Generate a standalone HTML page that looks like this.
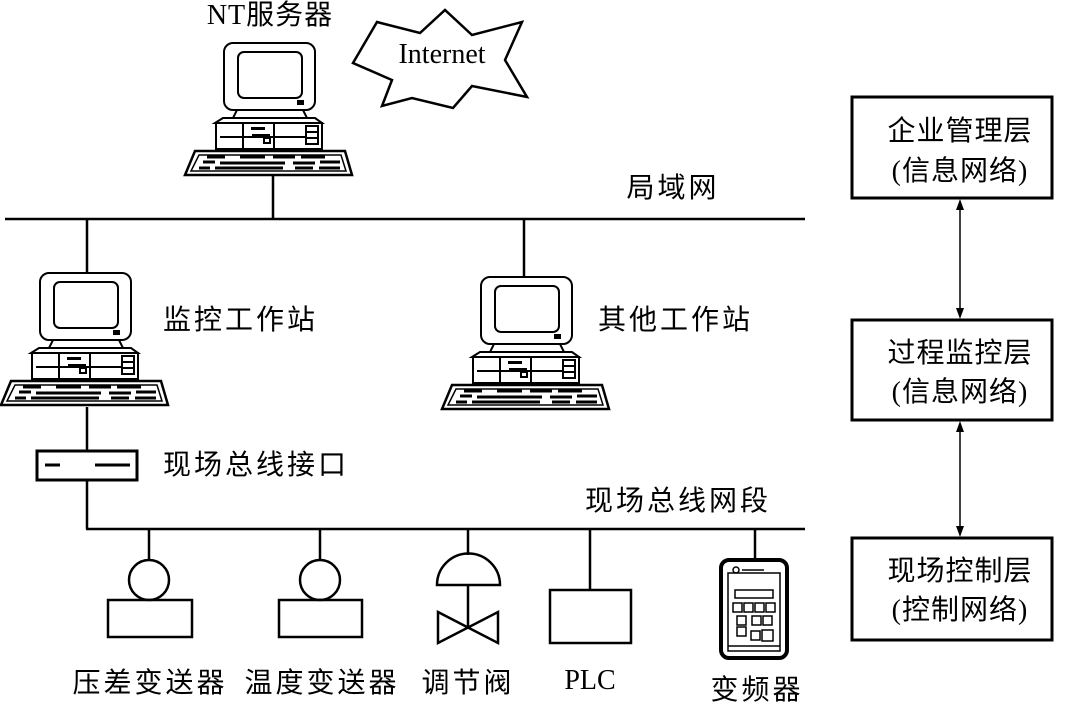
<!DOCTYPE html>
<html><head><meta charset="utf-8"><style>
body{margin:0;background:#fff}
svg{display:block}
text{font-family:"Liberation Serif","Noto Sans CJK SC",sans-serif;font-size:28px;fill:#000;letter-spacing:3px}
text.n{letter-spacing:0}
text.b{letter-spacing:1px}
</style></head><body>
<svg width="1069" height="704" viewBox="0 0 1069 704" xmlns="http://www.w3.org/2000/svg">
<defs>
<g id="pc" fill="#fff" stroke="#000" stroke-width="2">
  <rect x="39" y="0" width="91" height="67" rx="9"/>
  <rect x="53" y="9" width="64" height="46" rx="6"/>
  <rect x="113" y="58" width="5" height="3" fill="#000"/>
  <path d="M52 67 L118 67 L122 75 L48 75 Z"/>
  <path d="M30 80 L38 75 L130 75 L137 80 Z"/>
  <rect x="31" y="80" width="106" height="26"/>
  <line x1="35" y1="94" x2="133" y2="94"/>
  <line x1="58" y1="80" x2="58" y2="106"/>
  <line x1="89" y1="80" x2="89" y2="106"/>
  <rect x="66" y="84" width="14" height="3" fill="#000" stroke="none"/>
  <rect x="67" y="91" width="18" height="2" fill="#000" stroke="none"/>
  <rect x="79" y="95" width="6" height="5"/>
  <rect x="121" y="83" width="12" height="18"/>
  <line x1="121" y1="89" x2="133" y2="89"/><line x1="121" y1="95" x2="133" y2="95"/>
  <path d="M10 108 L160 108 L167 132 L0 132 Z" stroke-width="2.5"/>
  <path d="M14 112 L156 112 L161 128 L6 128 Z" stroke-width="1.5"/>
  <g stroke-width="3">
  <line x1="22" y1="114" x2="40" y2="114"/><line x1="55" y1="114" x2="80" y2="114"/><line x1="88" y1="114" x2="110" y2="114"/><line x1="116" y1="114" x2="140" y2="114"/>
  <line x1="18" y1="119" x2="30" y2="119"/><line x1="35" y1="120" x2="100" y2="120"/><line x1="108" y1="120" x2="130" y2="120"/><line x1="135" y1="119" x2="155" y2="119"/>
  <line x1="14" y1="125" x2="25" y2="125"/><line x1="30" y1="125" x2="98" y2="125"/><line x1="110" y1="125" x2="128" y2="125"/><line x1="134" y1="125" x2="155" y2="125"/>
  </g>
</g>
</defs>
<g stroke="#000" stroke-width="2.5" fill="none">
  <line x1="5" y1="219" x2="805" y2="219"/>
  <line x1="273" y1="175" x2="273" y2="219"/>
  <line x1="87" y1="219" x2="87" y2="273"/>
  <line x1="524" y1="219" x2="524" y2="278"/>
  <line x1="87" y1="407" x2="87" y2="451"/>
  <line x1="87" y1="480" x2="87" y2="529"/>
  <line x1="86" y1="529" x2="805" y2="529"/>
  <rect x="37" y="451" width="100" height="29" stroke-width="3"/>
  <line x1="45" y1="465" x2="60" y2="465" stroke-width="3"/>
  <line x1="95" y1="465" x2="130" y2="465" stroke-width="3"/>
  <line x1="149" y1="529" x2="149" y2="560"/>
  <circle cx="149" cy="580" r="20"/>
  <rect x="108" y="600" width="84" height="37"/>
  <line x1="320" y1="529" x2="320" y2="560"/>
  <circle cx="320" cy="580" r="20"/>
  <rect x="279" y="600" width="83" height="37"/>
  <line x1="468" y1="529" x2="468" y2="555"/>
  <path d="M437 585 A31 31 0 0 1 500 585 Z"/>
  <line x1="468" y1="585" x2="468" y2="628"/>
  <path d="M438 612 L498 643 L498 612 L438 643 Z" stroke-linejoin="miter"/>
  <line x1="590" y1="529" x2="590" y2="590"/>
  <rect x="550" y="590" width="81" height="53"/>
  <line x1="755" y1="529" x2="755" y2="560"/>
  <rect x="721" y="560" width="66" height="98" rx="8" stroke-width="4"/>
  <rect x="728" y="573" width="52" height="78" stroke-width="1.5"/>
  <circle cx="736" cy="570" r="3" stroke-width="1.5"/>
  <line x1="742" y1="570" x2="764" y2="570" stroke-width="1.5"/>
  <rect x="735" y="590" width="38" height="8" stroke-width="1.5"/>
  <g stroke-width="1.5">
  <rect x="733" y="603" width="9" height="9"/><rect x="744" y="603" width="9" height="9"/><rect x="755" y="603" width="9" height="9"/><rect x="766" y="603" width="9" height="9"/>
  <rect x="737" y="616" width="9" height="9"/><rect x="752" y="616" width="9" height="9"/><rect x="763" y="616" width="9" height="9"/>
  <rect x="737" y="627" width="9" height="9"/><rect x="751" y="631" width="9" height="9"/><rect x="762" y="630" width="11" height="11"/>
  <line x1="728" y1="646" x2="780" y2="646"/>
  </g>
  <rect x="852" y="97" width="200" height="101" stroke-width="3"/>
  <rect x="852" y="320" width="200" height="100" stroke-width="3"/>
  <rect x="852" y="538" width="200" height="102" stroke-width="3"/>
  <line x1="960" y1="203" x2="960" y2="315" stroke-width="1.5"/>
  <line x1="960" y1="425" x2="960" y2="533" stroke-width="1.5"/>
  <polygon points="353,63 377,22 420,33 445,10 472,35 522,22 505,60 527,97 472,86 453,108 412,98 382,106 392,80" stroke-width="2.5" fill="#fff"/>
</g>
<g fill="#000">
  <polygon points="960,199 956,210 964,210"/><polygon points="960,319 956,308 964,308"/>
  <polygon points="960,421 956,432 964,432"/><polygon points="960,537 956,526 964,526"/>
</g>
<use href="#pc" x="185" y="43"/>
<use href="#pc" x="1" y="273"/>
<use href="#pc" x="442" y="277"/>
<text class="n" x="442" y="63" text-anchor="middle" font-size="25">Internet</text>
<text class="b" x="270" y="24" text-anchor="middle">NT服务器</text>
<text x="673" y="197" text-anchor="middle">局域网</text>
<text x="163" y="329">监控工作站</text>
<text x="598" y="329">其他工作站</text>
<text x="163" y="474">现场总线接口</text>
<text x="678" y="510" text-anchor="middle">现场总线网段</text>
<text x="150" y="692" text-anchor="middle">压差变送器</text>
<text x="322" y="692" text-anchor="middle">温度变送器</text>
<text x="468" y="692" text-anchor="middle">调节阀</text>
<text class="n" x="590" y="689" text-anchor="middle">PLC</text>
<text x="757" y="699" text-anchor="middle">变频器</text>
<text class="b" x="960" y="140" text-anchor="middle">企业管理层</text>
<text class="b" x="960" y="180" text-anchor="middle">(信息网络)</text>
<text class="b" x="960" y="362" text-anchor="middle">过程监控层</text>
<text class="b" x="960" y="401" text-anchor="middle">(信息网络)</text>
<text class="b" x="960" y="580" text-anchor="middle">现场控制层</text>
<text class="b" x="960" y="619" text-anchor="middle">(控制网络)</text>
</svg>
</body></html>
